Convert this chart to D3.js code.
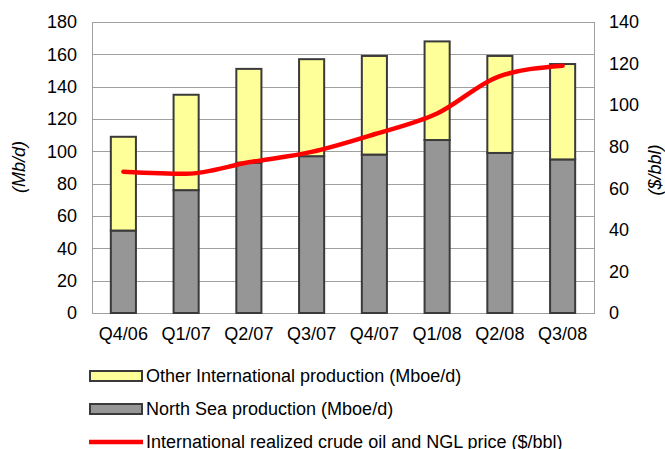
<!DOCTYPE html>
<html>
<head>
<meta charset="utf-8">
<script src="https://cdn.jsdelivr.net/npm/d3@7"></script>
<style>
  html, body { margin: 0; padding: 0; background: #fff; }
  svg { display: block; font-family: Arial, "Liberation Sans", sans-serif; }
</style>
</head>
<body>
<svg id="chart" width="665" height="449"></svg>
<script>
// Quarterly international production (Mboe/d) and realized price ($/bbl)
const quarters = ["Q4/06", "Q1/07", "Q2/07", "Q3/07", "Q4/07", "Q1/08", "Q2/08", "Q3/08"];
const northSea = [51, 76, 93, 97, 98, 107, 99, 95];
const otherIntl = [58, 59, 58, 60, 61, 61, 60, 59];
const price = [68, 67, 72.5, 77.5, 86, 96, 114, 119];
const leftTicks = [0, 20, 40, 60, 80, 100, 120, 140, 160, 180];
const rightTicks = [0, 20, 40, 60, 80, 100, 120, 140];
const legendLabels = [
  "Other International production (Mboe/d)",
  "North Sea production (Mboe/d)",
  "International realized crude oil and NGL price ($/bbl)"
];

const colors = { north: "#969696", other: "#ffff99", line: "#ff0000", edge: "#3a3a3a", grid: "#a0a0a0" };
const fontSize = 18;
const fontFamily = "Arial, 'Liberation Sans', sans-serif";

const svg = d3.select("#chart");
const plot = { left: 92, right: 594, top: 22, bottom: 313 };

const x = d3.scaleBand().domain(quarters).range([plot.left, plot.right]).paddingInner(0.6).paddingOuter(0.3);
const xc = d3.scaleBand().domain(quarters).range([plot.left, plot.right]);
const yL = d3.scaleLinear().domain([0, 180]).range([plot.bottom, plot.top]);
const yR = d3.scaleLinear().domain([0, 140]).range([plot.bottom, plot.top]);

// gridlines
svg.append("g").selectAll("line").data(leftTicks.slice(1, -1)).join("line")
  .attr("x1", plot.left).attr("x2", plot.right)
  .attr("y1", d => Math.round(yL(d)) + 0.5).attr("y2", d => Math.round(yL(d)) + 0.5)
  .attr("stroke", colors.grid).attr("stroke-width", 1);

// plot frame
svg.append("rect")
  .attr("x", plot.left + 0.5).attr("y", plot.top + 0.5)
  .attr("width", plot.right - plot.left).attr("height", plot.bottom - plot.top)
  .attr("fill", "none").attr("stroke", colors.grid);

// stacked bars
const stackData = quarters.map((q, i) => ({ q, north: northSea[i], other: otherIntl[i] }));
const series = d3.stack().keys(["north", "other"])(stackData);
svg.append("g").selectAll("g").data(series).join("g")
  .attr("fill", d => colors[d.key])
  .selectAll("rect").data(d => d).join("rect")
  .attr("x", d => x(d.data.q))
  .attr("width", x.bandwidth())
  .attr("y", d => yL(d[1]))
  .attr("height", d => yL(d[0]) - yL(d[1]))
  .attr("stroke", colors.edge).attr("stroke-width", 2);

// price line (right axis)
const line = d3.line()
  .x((d, i) => xc(quarters[i]) + xc.bandwidth() / 2)
  .y(d => yR(d))
  .curve(d3.curveMonotoneX);
svg.append("path").datum(price)
  .attr("d", line).attr("fill", "none")
  .attr("stroke", colors.line).attr("stroke-width", 4.5)
  .attr("stroke-linecap", "round").attr("stroke-linejoin", "round");

function styleAxis(g) {
  g.select(".domain").remove();
  g.selectAll("text").attr("font-size", fontSize).attr("fill", "#000").attr("font-family", fontFamily);
}

// left axis
svg.append("g").attr("transform", `translate(${plot.left},0)`)
  .call(d3.axisLeft(yL).tickValues(leftTicks).tickSize(0).tickPadding(15))
  .call(styleAxis);

// right axis
svg.append("g").attr("transform", `translate(${plot.right},0)`)
  .call(d3.axisRight(yR).tickValues(rightTicks).tickSize(0).tickPadding(15))
  .call(styleAxis);

// category axis
svg.append("g").attr("transform", `translate(0,${plot.bottom})`)
  .call(d3.axisBottom(xc).tickSize(0).tickPadding(14))
  .call(styleAxis);

// axis titles
svg.append("text").attr("transform", "translate(25,167) rotate(-90)")
  .attr("text-anchor", "middle").attr("font-size", fontSize).attr("font-style", "italic").text("(Mb/d)");
svg.append("text").attr("transform", "translate(661,170) rotate(-90)")
  .attr("text-anchor", "middle").attr("font-size", fontSize).attr("font-style", "italic").text("($/bbl)");

// legend
const leg = svg.append("g");
const rowsY = [376, 409, 442];
leg.append("rect").attr("x", 90).attr("y", rowsY[0] - 5).attr("width", 52).attr("height", 10)
  .attr("fill", colors.other).attr("stroke", colors.edge).attr("stroke-width", 2);
leg.append("rect").attr("x", 90).attr("y", rowsY[1] - 5).attr("width", 52).attr("height", 10)
  .attr("fill", colors.north).attr("stroke", colors.edge).attr("stroke-width", 2);
leg.append("line").attr("x1", 89).attr("x2", 143).attr("y1", rowsY[2]).attr("y2", rowsY[2])
  .attr("stroke", colors.line).attr("stroke-width", 4.5);
leg.selectAll("text").data(legendLabels).join("text")
  .attr("x", 146).attr("y", (d, i) => rowsY[i]).attr("dy", "0.35em")
  .attr("font-size", fontSize).text(d => d);
</script>
</body>
</html>
